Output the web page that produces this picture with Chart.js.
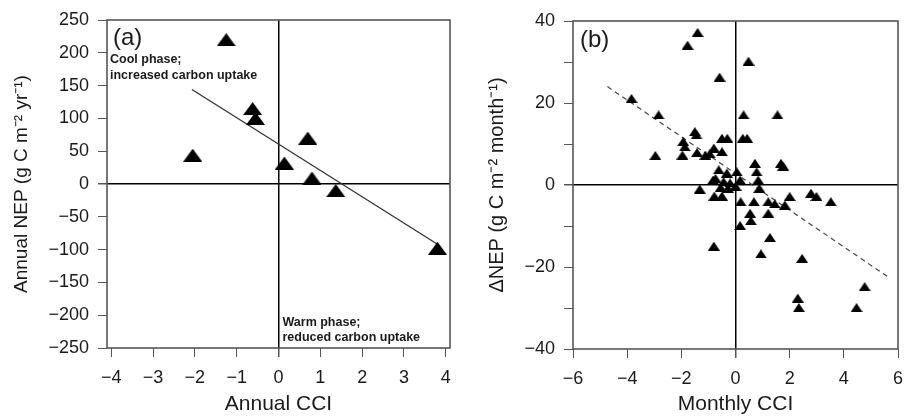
<!DOCTYPE html>
<html>
<head>
<meta charset="utf-8">
<script src="https://cdn.jsdelivr.net/npm/chart.js@4/dist/chart.umd.min.js"></script>
<style>
  html, body { margin: 0; padding: 0; background: #fff; }
  #wrap { position: relative; width: 905px; height: 418px; overflow: hidden; }
  #pa { position: absolute; left: 0; top: 0; }
  #pb { position: absolute; left: 460px; top: 0; }
</style>
</head>
<body>
<div id="wrap">
  <canvas id="pa" width="460" height="418"></canvas>
  <canvas id="pb" width="445" height="418"></canvas>
</div>
<script>
// ---------- Panel (a) data ----------
const annualCCI = [-1.25, -2.05, -0.62, -0.55, 0.70, 0.14, 0.80, 1.37, 3.80];
const annualNEP = [220, 44, 115, 100, 70, 32, 9, -10, -98];
const annualFitX = [-2.07, 3.83];
const annualFitY = [144, -93];
const annualXTicks = [-4, -3, -2, -1, 0, 1, 2, 3, 4];
const annualYTicks = [-250, -200, -150, -100, -50, 0, 50, 100, 150, 200, 250];

// ---------- Panel (b) data ----------
const monthlyCCI = [
  -1.40, -1.77, 0.48, -0.59, -3.84, -2.84, 0.30, 1.55,
  -1.50, -1.44, -1.93, -1.87, -1.96, -2.96,
  -0.50, -0.30, 0.27, 0.43,
  -1.42, -1.11, -0.95, -0.80, -0.50,
  0.72, 0.78, 0.84, 0.88, 1.76, 1.68,
  -0.62, -0.32, 0.05, -0.74, -0.44, 0.17, -0.83, -0.20,
  -1.32, -0.55, -0.28, 0.00,
  -0.78, -0.50,
  0.19, 0.68, 1.21, 1.45, 1.82, 2.00, 2.79, 2.99, 3.52,
  0.54, 0.57, 1.21, 0.17, 1.27, -0.80, 0.94, 2.46, 4.77, 2.30, 2.34, 4.47
];
const monthlyNEP = [
  37.2, 34.1, 30.2, 26.3, 21.1, 17.1, 17.1, 17.1,
  13.0, 12.2, 10.6, 9.3, 7.3, 7.2,
  11.4, 11.4, 11.4, 11.4,
  7.9, 7.3, 7.6, 9.0, 8.1,
  5.3, 3.2, 1.2, -0.8, 4.6, 5.3,
  3.7, 2.9, 3.2, 1.6, 0.8, 1.2, 1.2, 0.5,
  -1.0, -0.6, -0.8, -0.3,
  -2.7, -2.7,
  -4.1, -4.1, -4.1, -4.6, -4.9, -2.8, -2.0, -2.8, -4.1,
  -6.9, -8.7, -6.9, -9.9, -12.8, -14.9, -16.8, -17.9, -24.8, -27.6, -29.9, -29.9
];
const monthlyFitX = [-4.73, 5.63];
const monthlyFitY = [24.0, -22.4];
const monthlyXTicks = [-6, -4, -2, 0, 2, 4, 6];
const monthlyYTicks = [-40, -30, -20, -10, 0, 10, 20, 30, 40];
const monthlyYLabelled = [-40, -20, 0, 20, 40];

// ---------- helpers ----------
const FONT = '"Liberation Sans", Arial, Helvetica, sans-serif';
const INK = '#1a1a1a';
const FRAME = '#555';

function triangle(w, h) {
  const c = document.createElement('canvas');
  c.width = w; c.height = h;
  const g = c.getContext('2d');
  g.fillStyle = '#000';
  g.beginPath();
  g.moveTo(w / 2, 0);
  g.lineTo(w, h);
  g.lineTo(0, h);
  g.closePath();
  g.fill();
  return c;
}
function pts(xs, ys) { return xs.map((x, i) => ({ x: x, y: ys[i] })); }
function minusFmt(v) { return String(v).replace('-', '\u2212'); }

function framePlugin(texts) {
  return {
    id: 'frame',
    afterDatasetsDraw(chart) {
      const a = chart.chartArea;
      const ctx = chart.ctx;
      ctx.save();
      ctx.strokeStyle = FRAME;
      ctx.lineWidth = 1.6;
      ctx.strokeRect(a.left, a.top, a.right - a.left, a.bottom - a.top);
      ctx.fillStyle = INK;
      ctx.textBaseline = 'middle';
      ctx.textAlign = 'left';
      texts(chart).forEach(t => {
        ctx.font = t.font;
        ctx.fillText(t.text, t.x, t.y);
      });
      ctx.restore();
    }
  };
}

function axisX(ticks, min, max, title, height) {
  return {
    type: 'linear', min: min, max: max,
    afterBuildTicks: s => { s.ticks = ticks.map(v => ({ value: v })); },
    afterFit: s => { s.height = height; s.paddingLeft = 0; s.paddingRight = 0; },
    border: { display: false },
    grid: {
      color: c => (c.tick && c.tick.value === 0) ? '#000' : 'rgba(0,0,0,0)',
      lineWidth: c => (c.tick && c.tick.value === 0) ? 1.5 : 1,
      tickColor: FRAME, tickLength: 9, drawTicks: true
    },
    ticks: { color: INK, font: { family: FONT, size: 18 }, padding: 10, maxRotation: 0, autoSkip: false,
             callback: v => minusFmt(v) },
    title: { display: true, text: title, color: INK, font: { family: FONT, size: 21 }, padding: { top: 0, bottom: 1 } }
  };
}
function axisY(ticks, labelled, min, max, title, width, titlePad, titleSize) {
  return {
    type: 'linear', min: min, max: max,
    afterBuildTicks: s => { s.ticks = ticks.map(v => ({ value: v })); },
    afterFit: s => { s.width = width; s.paddingTop = 0; s.paddingBottom = 0; },
    border: { display: false },
    grid: {
      color: c => (c.tick && c.tick.value === 0) ? '#000' : 'rgba(0,0,0,0)',
      lineWidth: c => (c.tick && c.tick.value === 0) ? 1.5 : 1,
      tickColor: FRAME, tickLength: 9, drawTicks: true
    },
    ticks: { color: INK, font: { family: FONT, size: 18 }, padding: 9, autoSkip: false,
             callback: v => labelled.includes(v) ? minusFmt(v) : '' },
    title: { display: true, text: title, color: INK, font: { family: FONT, size: titleSize }, padding: { top: titlePad, bottom: 0 } }
  };
}

const common = {
  responsive: false, animation: false, devicePixelRatio: 1,
  plugins: { legend: { display: false }, tooltip: { enabled: false } },
  events: []
};

// ---------- Panel (a) ----------
new Chart(document.getElementById('pa'), {
  type: 'scatter',
  data: {
    datasets: [
      { data: pts(annualCCI, annualNEP), pointStyle: triangle(19, 13), pointRadius: 9, order: 0 },
      { type: 'line', data: pts(annualFitX, annualFitY), showLine: true, pointRadius: 0,
        borderColor: '#333', borderWidth: 1.3, fill: false, order: 1 }
    ]
  },
  options: Object.assign({}, common, {
    layout: { padding: { top: 20, right: 7, left: 0, bottom: 0 } },
    scales: {
      x: axisX(annualXTicks, -4.1, 4.1, 'Annual CCI', 70),
      y: axisY(annualYTicks, annualYTicks, -250, 250, 'Annual NEP (g C m\u207B\u00B2 yr\u207B\u00B9)', 107, 10, 19)
    }
  }),
  plugins: [framePlugin(ch => {
    const a = ch.chartArea;
    const x0 = ch.scales.x.getPixelForValue(0);
    return [
      { text: '(a)', x: a.left + 6, y: a.top + 18, font: '24px ' + FONT },
      { text: 'Cool phase;', x: a.left + 3, y: a.top + 40, font: 'bold 12.5px ' + FONT },
      { text: 'increased carbon uptake', x: a.left + 3, y: a.top + 56, font: 'bold 12.5px ' + FONT },
      { text: 'Warm phase;', x: x0 + 4, y: a.bottom - 25, font: 'bold 12.5px ' + FONT },
      { text: 'reduced carbon uptake', x: x0 + 4, y: a.bottom - 10, font: 'bold 12.5px ' + FONT }
    ];
  })]
});

// ---------- Panel (b) ----------
new Chart(document.getElementById('pb'), {
  type: 'scatter',
  data: {
    datasets: [
      { data: pts(monthlyCCI, monthlyNEP), pointStyle: triangle(12, 9), pointRadius: 6, order: 0 },
      { type: 'line', data: pts(monthlyFitX, monthlyFitY), showLine: true, pointRadius: 0,
        borderColor: '#444', borderWidth: 1.2, borderDash: [5, 4], fill: false, order: 1 }
    ]
  },
  options: Object.assign({}, common, {
    layout: { padding: { top: 21, right: 4, left: 0, bottom: 0 } },
    scales: {
      x: axisX(monthlyXTicks, -6, 6, 'Monthly CCI', 69),
      y: axisY(monthlyYTicks, monthlyYLabelled, -40, 40, '\u0394NEP (g C m\u207B\u00B2 month\u207B\u00B9)', 113, 25, 20)
    }
  }),
  plugins: [framePlugin(ch => {
    const a = ch.chartArea;
    return [
      { text: '(b)', x: a.left + 7, y: a.top + 19, font: '24px ' + FONT }
    ];
  })]
});
</script>
</body>
</html>
